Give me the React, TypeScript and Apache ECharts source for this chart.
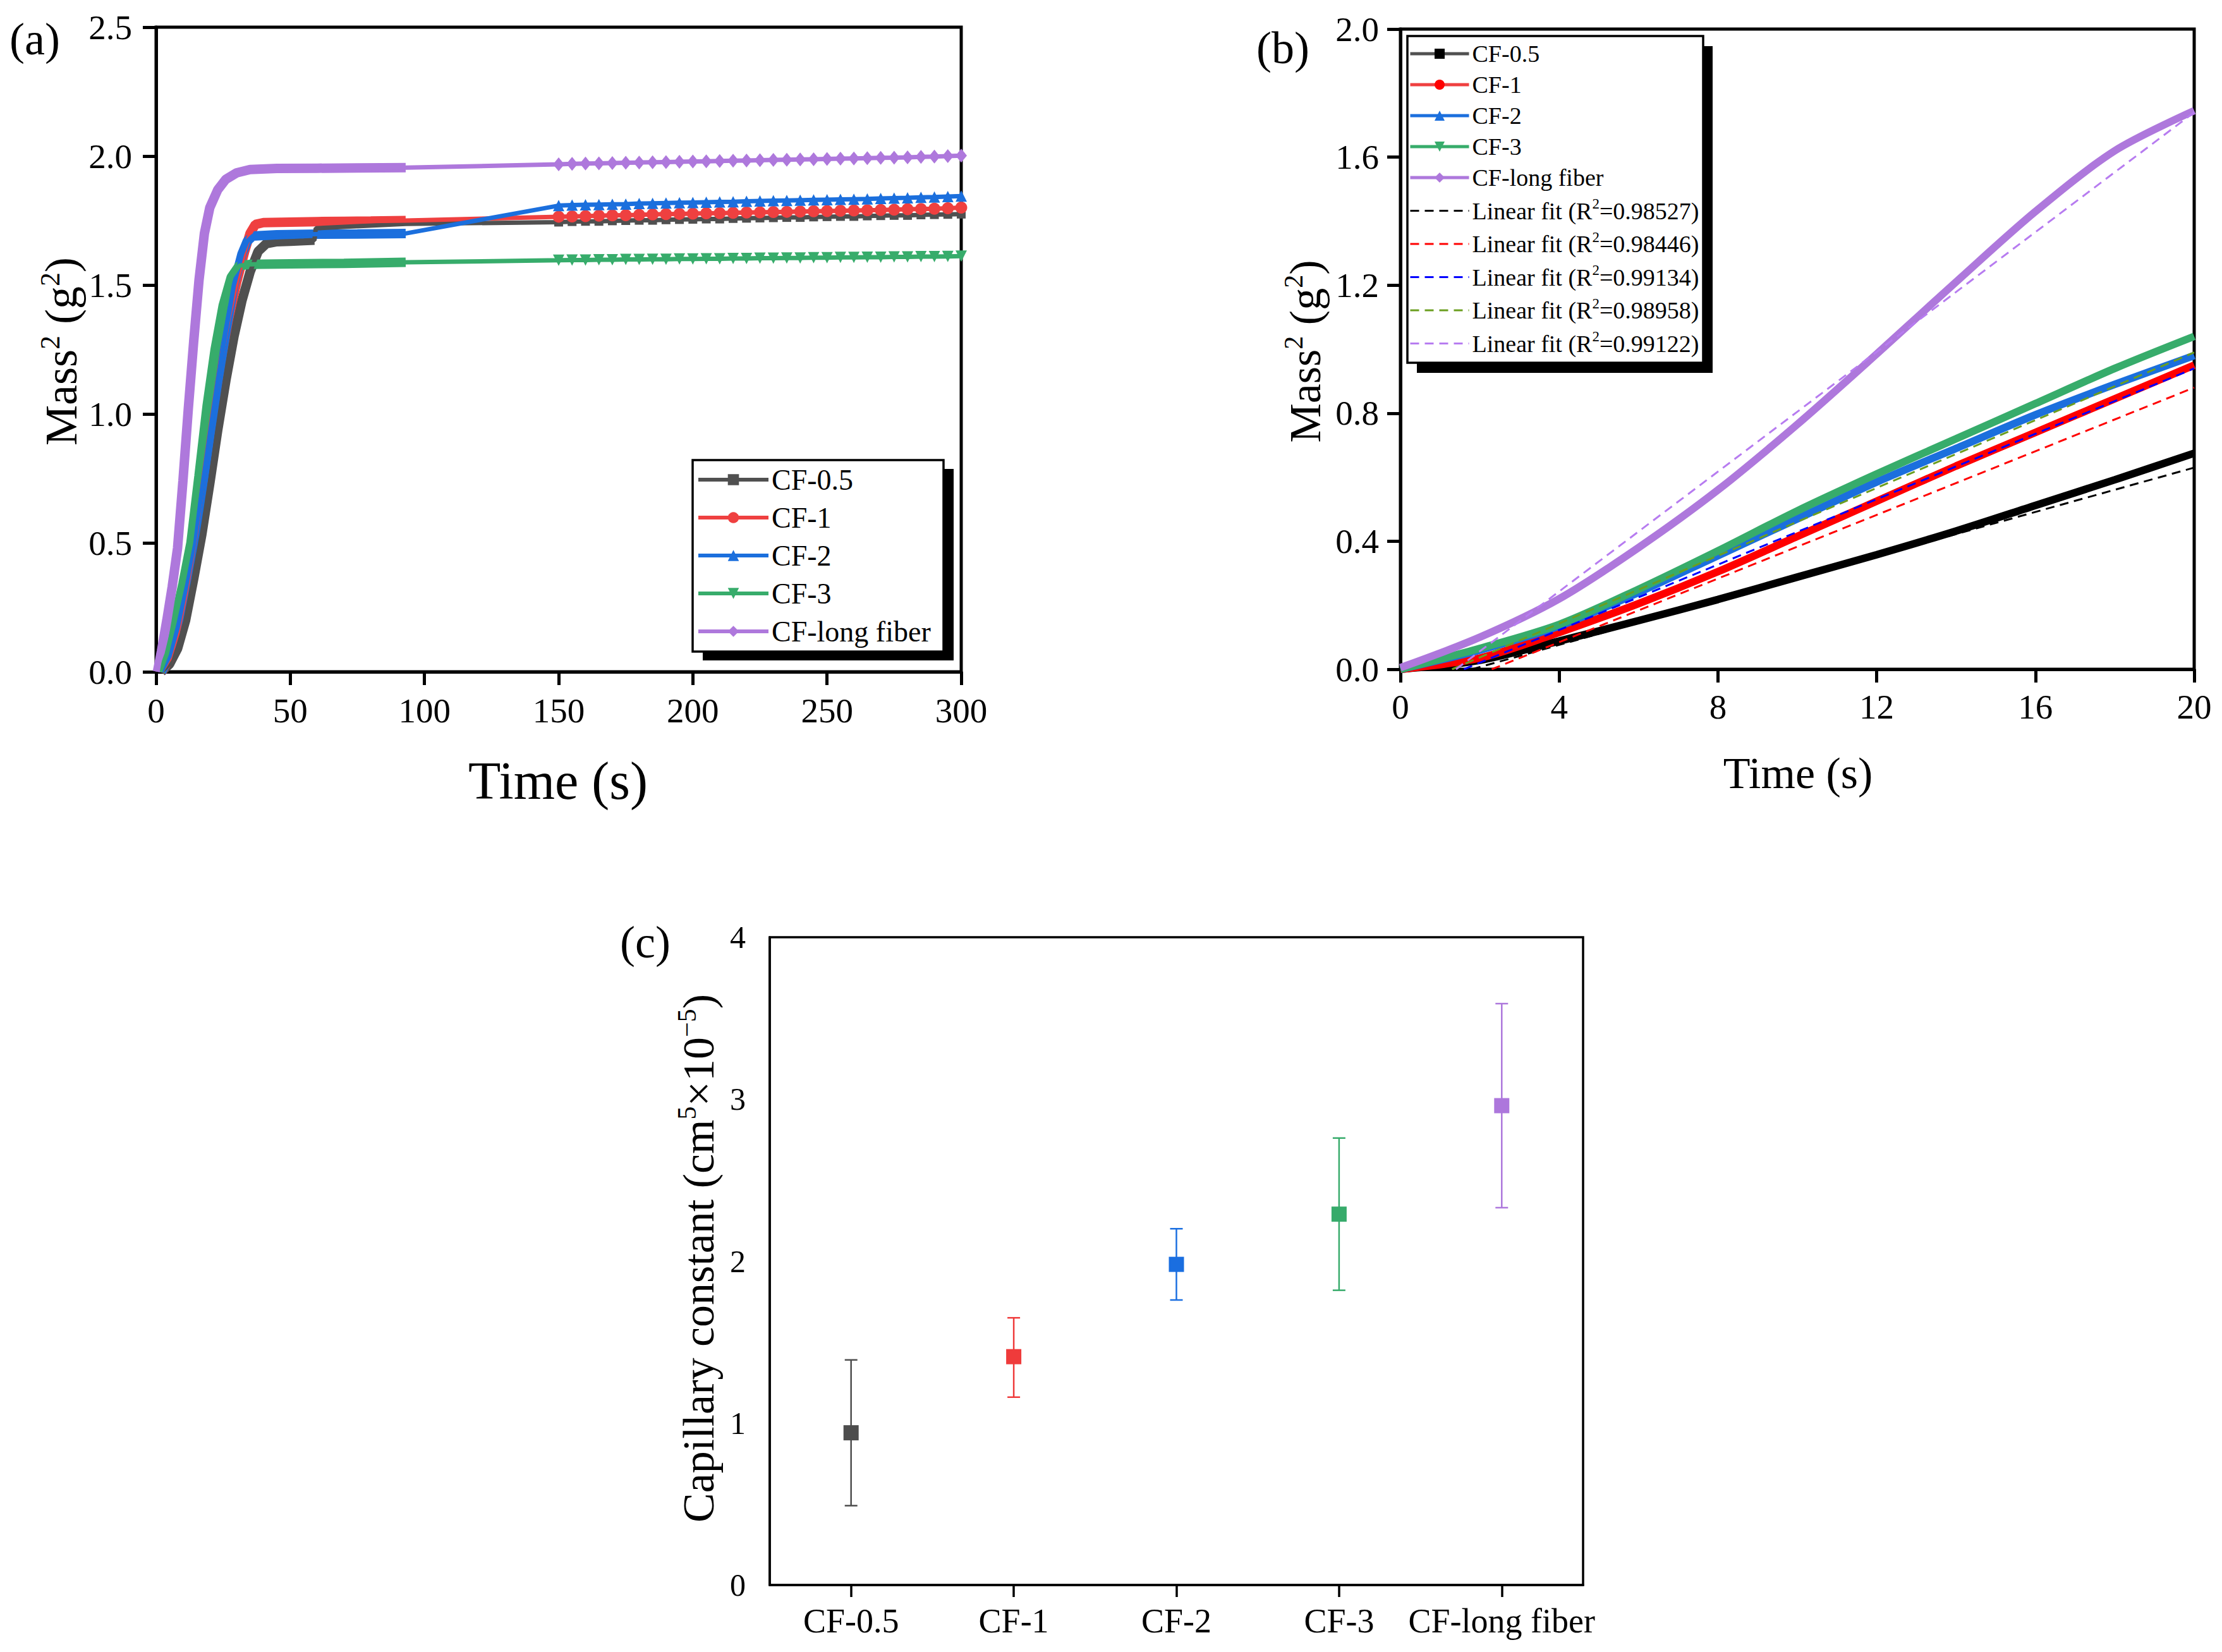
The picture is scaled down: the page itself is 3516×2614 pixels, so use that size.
import React, { useEffect, useRef } from 'react';
import * as echarts from 'echarts';

const FONT = '"Liberation Serif", "Times New Roman", serif';

// ---- shared sample info ----
const sampleNames = ['CF-0.5', 'CF-1', 'CF-2', 'CF-3', 'CF-long fiber'];
const lineColors = ['#505050', '#ef4040', '#1b6fdd', '#37ac6b', '#ae78dc'];
const symbols = ['rect', 'circle', 'triangle', 'triangle', 'diamond'];
const symbolRotates = [0, 0, 0, 180, 0];
const symbolSizesA: any[] = [14, 19, 18, 18, [18, 22]];

// ---- panel (a): full 300 s curves ----
const cf05Early = [[2, 0], [5, 0.03], [8, 0.09], [11, 0.2], [14, 0.36], [17, 0.53], [20, 0.73], [23, 0.94], [26, 1.13], [29, 1.3], [32, 1.44], [35, 1.55], [38, 1.63], [41, 1.66], [45, 1.668], [50, 1.67], [55, 1.672], [59, 1.674]];
const cf05Bridge = [[59.5, 1.72], [93, 1.737]];
const cf1Early = [[2, 0], [5, 0.05], [8, 0.15], [11, 0.3], [13, 0.42], [15, 0.55], [18, 0.78], [21, 1.0], [24, 1.2], [27, 1.37], [30, 1.51], [33, 1.63], [35, 1.7], [37, 1.735], [40, 1.742], [50, 1.744], [60, 1.746], [70, 1.747], [80, 1.748], [93, 1.75]];
const cf2Early = [[2, 0], [5, 0.06], [8, 0.17], [11, 0.32], [14, 0.49], [17, 0.7], [20, 0.92], [23, 1.13], [26, 1.32], [29, 1.5], [32, 1.62], [34, 1.67], [36, 1.69], [45, 1.695], [60, 1.697], [75, 1.698], [93, 1.7]];
const cf3Early = [[1.5, 0], [4, 0.07], [7, 0.2], [10, 0.34], [13, 0.5], [16, 0.76], [19, 1.03], [22, 1.25], [25, 1.42], [28, 1.53], [31, 1.575], [35, 1.58], [50, 1.582], [70, 1.584], [93, 1.588]];
const cfLongEarly = [[0.5, 0], [2, 0.08], [4, 0.2], [6, 0.33], [8, 0.48], [10, 0.74], [12, 1.02], [14, 1.28], [16, 1.52], [18, 1.7], [20, 1.8], [23, 1.87], [26, 1.91], [30, 1.935], [35, 1.948], [45, 1.952], [60, 1.953], [75, 1.954], [93, 1.955]];

const lateTimes = [150, 155, 160, 165, 170, 175, 180, 185, 190, 195, 200, 205, 210, 215, 220, 225, 230, 235, 240, 245, 250, 255, 260, 265, 270, 275, 280, 285, 290, 295, 300];
const cf05Late = [1.744, 1.746, 1.747, 1.747, 1.749, 1.75, 1.751, 1.751, 1.753, 1.754, 1.755, 1.756, 1.756, 1.758, 1.759, 1.76, 1.761, 1.762, 1.762, 1.764, 1.765, 1.766, 1.766, 1.768, 1.769, 1.77, 1.77, 1.772, 1.773, 1.774, 1.775];
const cf1Late = [1.765, 1.766, 1.767, 1.769, 1.77, 1.771, 1.772, 1.774, 1.775, 1.776, 1.777, 1.778, 1.779, 1.78, 1.781, 1.782, 1.783, 1.784, 1.785, 1.786, 1.787, 1.788, 1.789, 1.79, 1.791, 1.792, 1.794, 1.795, 1.796, 1.798, 1.8];
const cf2Late = [1.808, 1.81, 1.811, 1.812, 1.813, 1.814, 1.816, 1.817, 1.818, 1.819, 1.82, 1.821, 1.822, 1.823, 1.825, 1.826, 1.827, 1.828, 1.829, 1.83, 1.831, 1.832, 1.833, 1.834, 1.836, 1.837, 1.838, 1.84, 1.841, 1.843, 1.845];
const cf3Late = [1.596, 1.597, 1.597, 1.598, 1.598, 1.599, 1.599, 1.6, 1.6, 1.601, 1.601, 1.602, 1.602, 1.603, 1.603, 1.604, 1.604, 1.605, 1.605, 1.606, 1.606, 1.607, 1.607, 1.608, 1.608, 1.609, 1.609, 1.61, 1.61, 1.611, 1.612];
const cfLongLate = [1.968, 1.97, 1.971, 1.972, 1.973, 1.974, 1.975, 1.976, 1.977, 1.978, 1.979, 1.98, 1.981, 1.982, 1.983, 1.984, 1.985, 1.986, 1.987, 1.988, 1.989, 1.99, 1.991, 1.992, 1.993, 1.994, 1.995, 1.997, 1.998, 2.0, 2.002];

const earlyA = [cf05Early, cf1Early, cf2Early, cf3Early, cfLongEarly];
const bridgeA = [cf05Bridge, [], [], [], []];
const lateA = [cf05Late, cf1Late, cf2Late, cf3Late, cfLongLate];

// ---- panel (b): first 20 s ----
const bTimes = [0, 2, 4, 6, 8, 10, 12, 14, 16, 18, 20];
const b05 = [0, 0.028, 0.088, 0.152, 0.218, 0.288, 0.358, 0.432, 0.512, 0.592, 0.675];
const b1 = [0, 0.035, 0.115, 0.205, 0.305, 0.415, 0.525, 0.635, 0.74, 0.845, 0.95];
const b2 = [0, 0.06, 0.135, 0.24, 0.355, 0.47, 0.585, 0.69, 0.795, 0.89, 0.98];
const b3 = [0, 0.065, 0.14, 0.25, 0.37, 0.495, 0.61, 0.72, 0.83, 0.94, 1.04];
const bLong = [0.005, 0.1, 0.22, 0.38, 0.56, 0.765, 0.985, 1.21, 1.43, 1.62, 1.745];
const valuesB = [b05, b1, b2, b3, bLong];
const markerColorsB = ['#000000', '#ff0000', '#1b6fdd', '#37ac6b', '#ae78dc'];

const fitR2 = ['0.98527', '0.98446', '0.99134', '0.98958', '0.99122'];
const fitStartT = [1.8, 2.3, 1.6, 1.3, 1.4];
const fitEndV = [0.63, 0.88, 0.94, 0.99, 1.74];
const fitColors = ['#000000', '#ff0000', '#0000ff', '#6b9e1f', '#b77cf0'];

// ---- panel (c): capillary constant ----
const cMean = [0.94, 1.41, 1.98, 2.29, 2.96];
const cLow = [0.49, 1.16, 1.76, 1.82, 2.33];
const cHigh = [1.39, 1.65, 2.2, 2.76, 3.59];
const cColors = ['#4d4d4d', '#ef3b3b', '#1a6ee0', '#37ab6b', '#ad77dc'];

const W = 3516;
const H = 2614;

const axisText = (size: number) => ({ fontSize: size, fontFamily: FONT, color: '#000' });

function valueAxis(gridIndex: number, min: number, max: number, interval: number, width: number, margin: number, fmt?: (v: number) => string) {
  return {
    type: 'value',
    gridIndex,
    min,
    max,
    interval,
    axisLine: { show: true, onZero: false, lineStyle: { color: '#000', width } },
    axisTick: { show: true, inside: false, length: 21, lineStyle: { color: '#000', width } },
    axisLabel: { ...axisText(55), margin, formatter: fmt },
    splitLine: { show: false },
  };
}

export default function App() {
  const ref = useRef<HTMLDivElement>(null);

  useEffect(() => {
    document.body.style.margin = '0';
    if (!ref.current) return;
    const chart = echarts.init(ref.current, undefined, { renderer: 'svg' });

    const series: any[] = [];

    // (a) thick bands for the densely sampled first part
    earlyA.forEach((pts, i) => {
      series.push({
        type: 'line',
        name: `band-${i}`,
        xAxisIndex: 0,
        yAxisIndex: 0,
        data: pts,
        symbol: 'none',
        silent: true,
        lineStyle: { color: lineColors[i], width: 15 },
        z: 2,
      });
    });
    // (a) main lines with markers on the late segment
    sampleNames.forEach((name, i) => {
      const data = [
        ...earlyA[i].map((p) => ({ value: p, symbol: 'none' })),
        ...bridgeA[i].map((p) => ({ value: p, symbol: 'none' })),
        ...lateA[i].map((v, k) => [lateTimes[k], v]),
      ];
      series.push({
        type: 'line',
        name,
        xAxisIndex: 0,
        yAxisIndex: 0,
        data,
        symbol: symbols[i],
        symbolRotate: symbolRotates[i],
        symbolSize: symbolSizesA[i],
        showSymbol: true,
        showAllSymbol: true,
        lineStyle: { color: lineColors[i], width: 7 },
        itemStyle: { color: lineColors[i] },
        z: 3,
      });
    });

    // (b) measured curves
    sampleNames.forEach((name, i) => {
      series.push({
        type: 'line',
        name: 'b:' + name,
        xAxisIndex: 1,
        yAxisIndex: 1,
        data: bTimes.map((t, k) => [t, valuesB[i][k]]),
        smooth: 0.3,
        symbol: symbols[i],
        symbolRotate: symbolRotates[i],
        symbolSize: 14,
        showSymbol: false,
        lineStyle: { color: markerColorsB[i], width: 12 },
        itemStyle: { color: markerColorsB[i] },
        z: 3,
      });
    });
    // (b) linear fits
    fitR2.forEach((_, i) => {
      series.push({
        type: 'line',
        name: 'fit:' + i,
        xAxisIndex: 1,
        yAxisIndex: 1,
        data: [[fitStartT[i], 0], [20, fitEndV[i]]],
        symbol: 'none',
        lineStyle: { color: fitColors[i], width: 3, type: [14, 9] },
        itemStyle: { color: fitColors[i] },
        z: 4,
      });
    });

    // (c) error bars and means
    series.push({
      type: 'custom',
      xAxisIndex: 2,
      yAxisIndex: 2,
      data: sampleNames.map((_, i) => ({ value: [i, cLow[i], cHigh[i]], itemStyle: { color: cColors[i] } })),
      encode: { x: 0, y: [1, 2] },
      renderItem: (params: any, api: any) => {
        const idx = api.value(0);
        const lo = api.coord([idx, api.value(1)]);
        const hi = api.coord([idx, api.value(2)]);
        const color = api.visual('color');
        const w = 10;
        const st = { stroke: color, lineWidth: 2.5 };
        return {
          type: 'group',
          children: [
            { type: 'line', shape: { x1: lo[0], y1: lo[1], x2: hi[0], y2: hi[1] }, style: st },
            { type: 'line', shape: { x1: lo[0] - w, y1: lo[1], x2: lo[0] + w, y2: lo[1] }, style: st },
            { type: 'line', shape: { x1: hi[0] - w, y1: hi[1], x2: hi[0] + w, y2: hi[1] }, style: st },
          ],
        };
      },
      z: 3,
    });
    series.push({
      type: 'scatter',
      xAxisIndex: 2,
      yAxisIndex: 2,
      data: cMean.map((v, i) => ({ value: [i, v], itemStyle: { color: cColors[i], opacity: 1 } })),
      symbol: 'rect',
      symbolSize: 24,
      itemStyle: { opacity: 1 },
      z: 4,
    });

    const supRich = (big: number, small: number, lh: number) => ({
      a: { fontSize: big, fontFamily: FONT, lineHeight: lh, fill: '#000' },
      s: { fontSize: small, fontFamily: FONT, lineHeight: small, verticalAlign: 'top', fill: '#000' },
    });

    const option: any = {
      animation: false,
      backgroundColor: '#fff',
      grid: [
        { left: 247, top: 43, width: 1274, height: 1020, show: true, borderColor: '#000', borderWidth: 5, backgroundColor: 'transparent' },
        { left: 2216, top: 46, width: 1256, height: 1013, show: true, borderColor: '#000', borderWidth: 5, backgroundColor: 'transparent' },
        { left: 1218, top: 1483, width: 1287, height: 1025, show: true, borderColor: '#000', borderWidth: 3.5, backgroundColor: 'transparent' },
      ],
      xAxis: [
        valueAxis(0, 0, 300, 50, 5, 34),
        valueAxis(1, 0, 20, 4, 5, 32),
        {
          type: 'category',
          gridIndex: 2,
          data: sampleNames,
          axisLine: { show: true, lineStyle: { color: '#000', width: 3.5 } },
          axisTick: { show: true, alignWithLabel: true, length: 19, lineStyle: { color: '#000', width: 3.5 } },
          axisLabel: { ...axisText(54), margin: 30, interval: 0 },
          splitLine: { show: false },
        },
      ],
      yAxis: [
        valueAxis(0, 0, 2.5, 0.5, 5, 38, (v) => v.toFixed(1)),
        valueAxis(1, 0, 2.0, 0.4, 5, 34, (v) => v.toFixed(1)),
        {
          type: 'value',
          gridIndex: 2,
          min: 0,
          max: 4,
          interval: 1,
          axisLine: { show: true, lineStyle: { color: '#000', width: 3.5 } },
          axisTick: { show: false },
          axisLabel: { ...axisText(50), margin: 38 },
          splitLine: { show: false },
        },
      ],
      legend: [
        {
          orient: 'vertical',
          left: 1102,
          top: 736,
          padding: 0,
          itemWidth: 111,
          itemHeight: 22,
          itemGap: 14,
          selectedMode: false,
          data: sampleNames.map((n) => ({ name: n, lineStyle: { width: 6 } })),
          textStyle: { fontFamily: FONT, fontSize: 46, lineHeight: 46, color: '#000' },
          z: 10,
        },
        {
          orient: 'vertical',
          left: 2229,
          top: 66,
          padding: 0,
          itemWidth: 93,
          itemHeight: 20,
          itemGap: 11,
          selectedMode: false,
          data: [
            ...sampleNames.map((n, i) => ({
              name: 'b:' + n,
              itemStyle: { color: markerColorsB[i] },
              lineStyle: { color: lineColors[i], width: 5 },
            })),
            ...fitR2.map((_, i) => ({
              name: 'fit:' + i,
              itemStyle: { color: 'rgba(0,0,0,0)', opacity: 0, borderWidth: 0 },
              lineStyle: { width: 3 },
            })),
          ],
          formatter: (name: string) => {
            if (name.startsWith('fit:')) {
              const i = Number(name.slice(4));
              return `{a|Linear fit (R}{s|2}{a|=${fitR2[i]})}`;
            }
            return `{b|${name.slice(2)}}`;
          },
          textStyle: {
            fontFamily: FONT,
            fontSize: 38,
            color: '#000',
            rich: {
              a: { fontSize: 38, fontFamily: FONT, lineHeight: 45, color: '#000' },
              b: { fontSize: 38, fontFamily: FONT, lineHeight: 40, color: '#000' },
              s: { fontSize: 23, fontFamily: FONT, lineHeight: 23, verticalAlign: 'top', color: '#000' },
            },
          },
          z: 10,
        },
      ],
      graphic: [
        // legend boxes with hard shadows
        { type: 'rect', z: 5, shape: { x: 1112, y: 742, width: 397, height: 303 }, style: { fill: '#000' } },
        { type: 'rect', z: 6, shape: { x: 1096, y: 728, width: 397, height: 303 }, style: { fill: '#fff', stroke: '#000', lineWidth: 3.5 } },
        { type: 'rect', z: 5, shape: { x: 2242, y: 73, width: 468, height: 517 }, style: { fill: '#000' } },
        { type: 'rect', z: 6, shape: { x: 2227, y: 57, width: 468, height: 517 }, style: { fill: '#fff', stroke: '#000', lineWidth: 3.5 } },
        // panel letters
        { type: 'text', x: 15, y: 62, style: { text: '(a)', fontSize: 72, fontFamily: FONT, fill: '#000', verticalAlign: 'middle' } },
        { type: 'text', x: 1988, y: 76, style: { text: '(b)', fontSize: 72, fontFamily: FONT, fill: '#000', verticalAlign: 'middle' } },
        { type: 'text', x: 981, y: 1491, style: { text: '(c)', fontSize: 72, fontFamily: FONT, fill: '#000', verticalAlign: 'middle' } },
        // axis titles
        { type: 'text', x: 883, y: 1235, style: { text: 'Time (s)', fontSize: 84, fontFamily: FONT, fill: '#000', align: 'center', verticalAlign: 'middle' } },
        { type: 'text', x: 2845, y: 1223, style: { text: 'Time (s)', fontSize: 70, fontFamily: FONT, fill: '#000', align: 'center', verticalAlign: 'middle' } },
        {
          type: 'text', x: 97, y: 556, rotation: Math.PI / 2,
          style: { text: '{a|Mass}{s|2}{a| (g}{s|2}{a|)}', rich: supRich(72, 44, 80), align: 'center', verticalAlign: 'middle' },
        },
        {
          type: 'text', x: 2065, y: 556, rotation: Math.PI / 2,
          style: { text: '{a|Mass}{s|2}{a| (g}{s|2}{a|)}', rich: supRich(70, 42, 78), align: 'center', verticalAlign: 'middle' },
        },
        {
          type: 'text', x: 1105, y: 1991, rotation: Math.PI / 2,
          style: { text: '{a|Capillary constant (cm}{s|5}{a|×10}{s|−5}{a|)}', rich: supRich(70, 42, 78), align: 'center', verticalAlign: 'middle' },
        },
      ],
      series,
    };

    chart.setOption(option);
    return () => {
      chart.dispose();
    };
  }, []);

  return <div ref={ref} style={{ width: W, height: H }} />;
}
